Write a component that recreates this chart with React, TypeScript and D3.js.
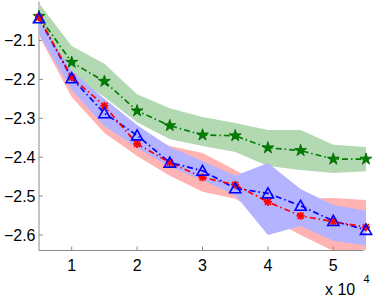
import * as d3 from 'd3'

// x positions (in units of 10^4)
const xs = [0.5, 1, 1.5, 2, 2.5, 3, 3.5, 4, 4.5, 5, 5.5]

const greenMean = [-2.038, -2.156, -2.205, -2.281, -2.319, -2.343, -2.345, -2.376, -2.383, -2.405, -2.405]
const greenHi   = [-2.004, -2.114, -2.160, -2.238, -2.274, -2.297, -2.312, -2.330, -2.330, -2.368, -2.374]
const greenLo   = [-2.068, -2.189, -2.245, -2.310, -2.354, -2.371, -2.387, -2.423, -2.433, -2.441, -2.436]

const redMean = [-2.040, -2.195, -2.268, -2.366, -2.414, -2.452, -2.471, -2.515, -2.551, -2.566, -2.580]
const redHi   = [-2.047, -2.184, -2.256, -2.330, -2.371, -2.389, -2.433, -2.479, -2.507, -2.505, -2.510]
const redLo   = [-2.088, -2.245, -2.338, -2.397, -2.448, -2.489, -2.507, -2.556, -2.600, -2.641, -2.641]

const blueMean = [-2.043, -2.197, -2.287, -2.344, -2.414, -2.435, -2.480, -2.493, -2.525, -2.564, -2.587]
const blueHi   = [-2.050, -2.178, -2.250, -2.317, -2.374, -2.410, -2.448, -2.415, -2.482, -2.523, -2.538]
const blueLo   = [-2.083, -2.227, -2.320, -2.376, -2.425, -2.459, -2.497, -2.600, -2.577, -2.615, -2.628]

const xTicks = [1, 2, 3, 4, 5]
const yTicks = [-2.1, -2.2, -2.3, -2.4, -2.5, -2.6]

const W = 374, H = 297
const FONT = '"Liberation Sans", Arial, sans-serif'

export default function App() {
  const x = d3.scaleLinear().domain([0.5, 5.5]).range([39, 366])
  const y = d3.scaleLinear().domain([-2.64, -2.0]).range([250.5, 1.6])

  const band = (hi: number[], lo: number[]) =>
    d3.area<number>().x((_, i) => x(xs[i])).y0((_, i) => y(lo[i])).y1((_, i) => y(hi[i]))(xs) || ''
  const line = (v: number[]) => d3.line<number>().x((_, i) => x(xs[i])).y((_, i) => y(v[i]))(xs) || ''

  const star = d3.symbol(d3.symbolStar, 44)() || ''
  const tri = 'M0,-5.5L5.6,4.5L-5.6,4.5Z'
  const dash = '6,3,1.5,3'
  const axisColor = '#8a8a8a'
  const x0 = x(0.5), yBot = y(-2.64)

  return (
    <svg width={W} height={H} style={{ position: 'absolute', left: 0, top: 0, background: '#fff' }}
      fontFamily={FONT}>
      <defs>
        <clipPath id="plot"><rect x={x0} y={0} width={W - x0} height={yBot} /></clipPath>
      </defs>
      {/* y axis (drawn beneath the bands) */}
      <line x1={x0} x2={x0} y1={y(-2.0)} y2={yBot} stroke={axisColor} />
      {yTicks.map(t => (
        <g key={t}>
          <line x1={x0} x2={x0 + 4} y1={y(t)} y2={y(t)} stroke={axisColor} />
          <text x={x0 - 3.5} y={y(t)} dy="0.36em" textAnchor="end" fontSize={16}>
            {'\u2212' + Math.abs(t).toFixed(1)}
          </text>
        </g>
      ))}
      <g clipPath="url(#plot)">
        <path d={band(greenHi, greenLo)} fill="#b3d9b3" />
        <path d={band(redHi, redLo)} fill="#ffb3b3" />
        <path d={band(blueHi, blueLo)} fill="#b3b3ff" />
      </g>
      {/* x axis */}
      <line x1={x0} x2={x(5.46)} y1={yBot} y2={yBot} stroke={axisColor} />
      {xTicks.map(t => (
        <g key={t}>
          <line x1={x(t)} x2={x(t)} y1={yBot} y2={yBot - 4} stroke={axisColor} />
          <text x={x(t)} y={yBot + 20} textAnchor="middle" fontSize={16}>{t}</text>
        </g>
      ))}
      <text x={325} y={295} fontSize={16}>x 10</text>
      <text x={363.5} y={283} fontSize={11}>4</text>

      {/* series lines */}
      <path d={line(greenMean)} fill="none" stroke="#008000" strokeWidth={1.7} strokeDasharray={dash} />
      <path d={line(blueMean)} fill="none" stroke="#0000ff" strokeWidth={1.7} strokeDasharray={dash} />
      <path d={line(redMean)} fill="none" stroke="#ff0000" strokeWidth={1.7} strokeDasharray={dash} />

      {/* markers */}
      {xs.map((v, i) => (
        <path key={'g' + i} d={star} transform={`translate(${x(v)},${y(greenMean[i])})`}
          fill="#008000" stroke="#006400" strokeWidth={0.8} />
      ))}
      {xs.map((v, i) => (
        <g key={'r' + i} transform={`translate(${x(v)},${y(redMean[i])})`} stroke="#ff0000" strokeWidth={1.8}>
          <line x1={-4} x2={4} y1={0} y2={0} />
          <line x1={0} x2={0} y1={-4} y2={4} />
          <line x1={-3} x2={3} y1={-3} y2={3} />
          <line x1={-3} x2={3} y1={3} y2={-3} />
        </g>
      ))}
      {xs.map((v, i) => (
        <path key={'b' + i} d={tri} transform={`translate(${x(v)},${y(blueMean[i])})`}
          fill="none" stroke="#0000ff" strokeWidth={1.6} />
      ))}
    </svg>
  )
}
